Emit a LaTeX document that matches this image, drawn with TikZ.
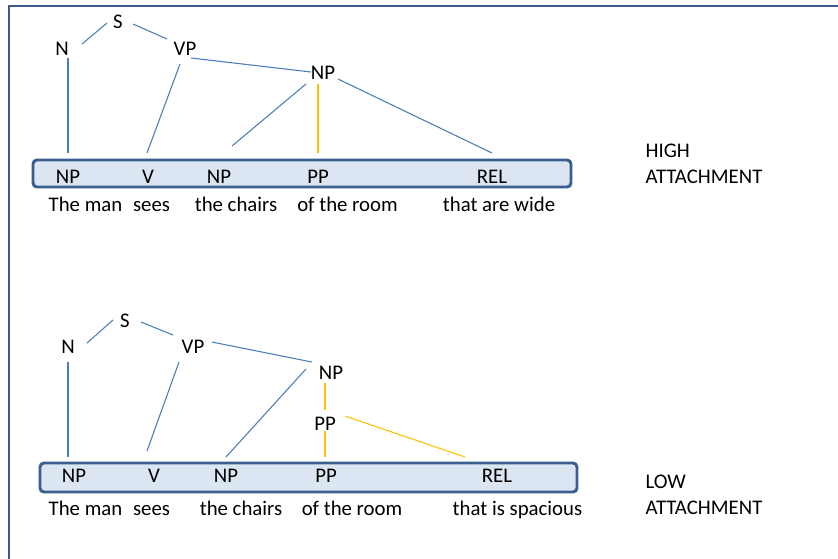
\documentclass[tikz,border=0pt]{standalone}
\usepackage{fontspec}
\setmainfont{Carlito}
\definecolor{blueline}{HTML}{4A7EBB}
\definecolor{yelline}{HTML}{FFC000}
\definecolor{barborder}{HTML}{3A5F8E}
\definecolor{barfill}{HTML}{DCE6F2}
\definecolor{framecol}{HTML}{3B5B8C}
\begin{document}
\begin{tikzpicture}[x=0.75pt,y=-0.75pt,
  lbl/.style={font=\fontsize{15.6}{18}\selectfont, inner sep=1pt, text=black, anchor=base},
  wrd/.style={font=\fontsize{15.6}{18}\selectfont, inner sep=0pt, text=black, anchor=base},
  blu/.style={draw=blueline, line width=0.8pt},
  yel/.style={draw=yelline, line width=0.8pt},
  bar/.style={draw=barborder, fill=barfill, line width=2.2pt, rounded corners=3pt}]
\useasboundingbox (0,0) rectangle (838,558);
\fill[white] (0,0) rectangle (838,558);
% frame
\draw[framecol, line width=1.6pt] (9,560) -- (9,6) -- (840,6);

% ---------- HIGH attachment ----------
\draw[bar] (33,160) rectangle (571,187);
\node[lbl] (hS) at (118,28) {S};
\node[lbl] (hN) at (62,55) {N};
\node[lbl] (hVP) at (185,55) {VP};
\node[lbl] (hNP) at (323,79) {NP};
\node[lbl] (hbNP) at (68,183) {NP};
\node[lbl] (hbV) at (148,183) {V};
\node[lbl] (hbNP2) at (219,183) {NP};
\node[lbl] (hbPP) at (318,183) {PP};
\node[lbl] (hbREL) at (492,183) {REL};
\node[wrd] (hw1) at (85.5,211) {The man};
\node[wrd] (hw2) at (151.5,211) {sees};
\node[wrd] (hw3) at (236,211) {the chairs};
\node[wrd] (hw4) at (347.5,211) {of the room};
\node[wrd] (hw5) at (499,211) {that are wide};
\node[lbl, anchor=base west] (hHigh) at (644,157) {HIGH};
\node[lbl, anchor=base west] (hAtt) at (644,183) {ATTACHMENT};

\coordinate (ha1) at (82,44);  \coordinate (ha2) at (107,23);
\coordinate (ha3) at (133,24); \coordinate (ha4) at (167,39);
\coordinate (ha5) at (191,58); \coordinate (ha6) at (311,72);
\coordinate (ha7) at (68,58);  \coordinate (ha8) at (68,153);
\coordinate (ha9) at (180,64); \coordinate (ha10) at (147,153);
\coordinate (ha11) at (306,84); \coordinate (ha12) at (232,146);
\coordinate (ha13) at (318,84); \coordinate (ha14) at (318,153);
\coordinate (ha15) at (338,79); \coordinate (ha16) at (492,153);
\draw[blu] (ha1) -- (ha2);
\draw[blu] (ha3) -- (ha4);
\draw[blu] (ha5) -- (ha6);
\draw[blu] (ha7) -- (ha8);
\draw[blu] (ha9) -- (ha10);
\draw[blu] (ha11) -- (ha12);
\draw[yel] (ha13) -- (ha14);
\draw[blu] (ha15) -- (ha16);

% ---------- LOW attachment ----------
\draw[bar] (40,463) rectangle (577,492);
\node[lbl] (lS) at (125,327) {S};
\node[lbl] (lN) at (68,353) {N};
\node[lbl] (lVP) at (193,353) {VP};
\node[lbl] (lNP) at (331,379) {NP};
\node[lbl] (lPP) at (325,430) {PP};
\node[lbl] (lbNP) at (74,482) {NP};
\node[lbl] (lbV) at (154,482) {V};
\node[lbl] (lbNP2) at (226,482) {NP};
\node[lbl] (lbPP) at (326,482) {PP};
\node[lbl] (lbREL) at (497,482) {REL};
\node[wrd] (lw1) at (85.5,515) {The man};
\node[wrd] (lw2) at (151.5,515) {sees};
\node[wrd] (lw3) at (241,515) {the chairs};
\node[wrd] (lw4) at (352,515) {of the room};
\node[wrd] (lw5) at (517.5,515) {that is spacious};
\node[lbl, anchor=base west] (lLow) at (644,488) {LOW};
\node[lbl, anchor=base west] (lAtt) at (644,514) {ATTACHMENT};

\coordinate (la1) at (87,343);  \coordinate (la2) at (113,320);
\coordinate (la3) at (141,322); \coordinate (la4) at (173,335);
\coordinate (la5) at (212,342); \coordinate (la6) at (312,362);
\coordinate (la7) at (68,362);  \coordinate (la8) at (68,457);
\coordinate (la9) at (179,362); \coordinate (la10) at (147,451);
\coordinate (la11) at (306,369); \coordinate (la12) at (226,457);
\coordinate (la13) at (325,383); \coordinate (la14) at (325,410);
\coordinate (la15) at (325,431); \coordinate (la16) at (325,457);
\coordinate (la17) at (345,416); \coordinate (la18) at (465,457);
\draw[blu] (la1) -- (la2);
\draw[blu] (la3) -- (la4);
\draw[blu] (la5) -- (la6);
\draw[blu] (la7) -- (la8);
\draw[blu] (la9) -- (la10);
\draw[blu] (la11) -- (la12);
\draw[yel] (la13) -- (la14);
\draw[yel] (la15) -- (la16);
\draw[yel] (la17) -- (la18);
\end{tikzpicture}
\end{document}
